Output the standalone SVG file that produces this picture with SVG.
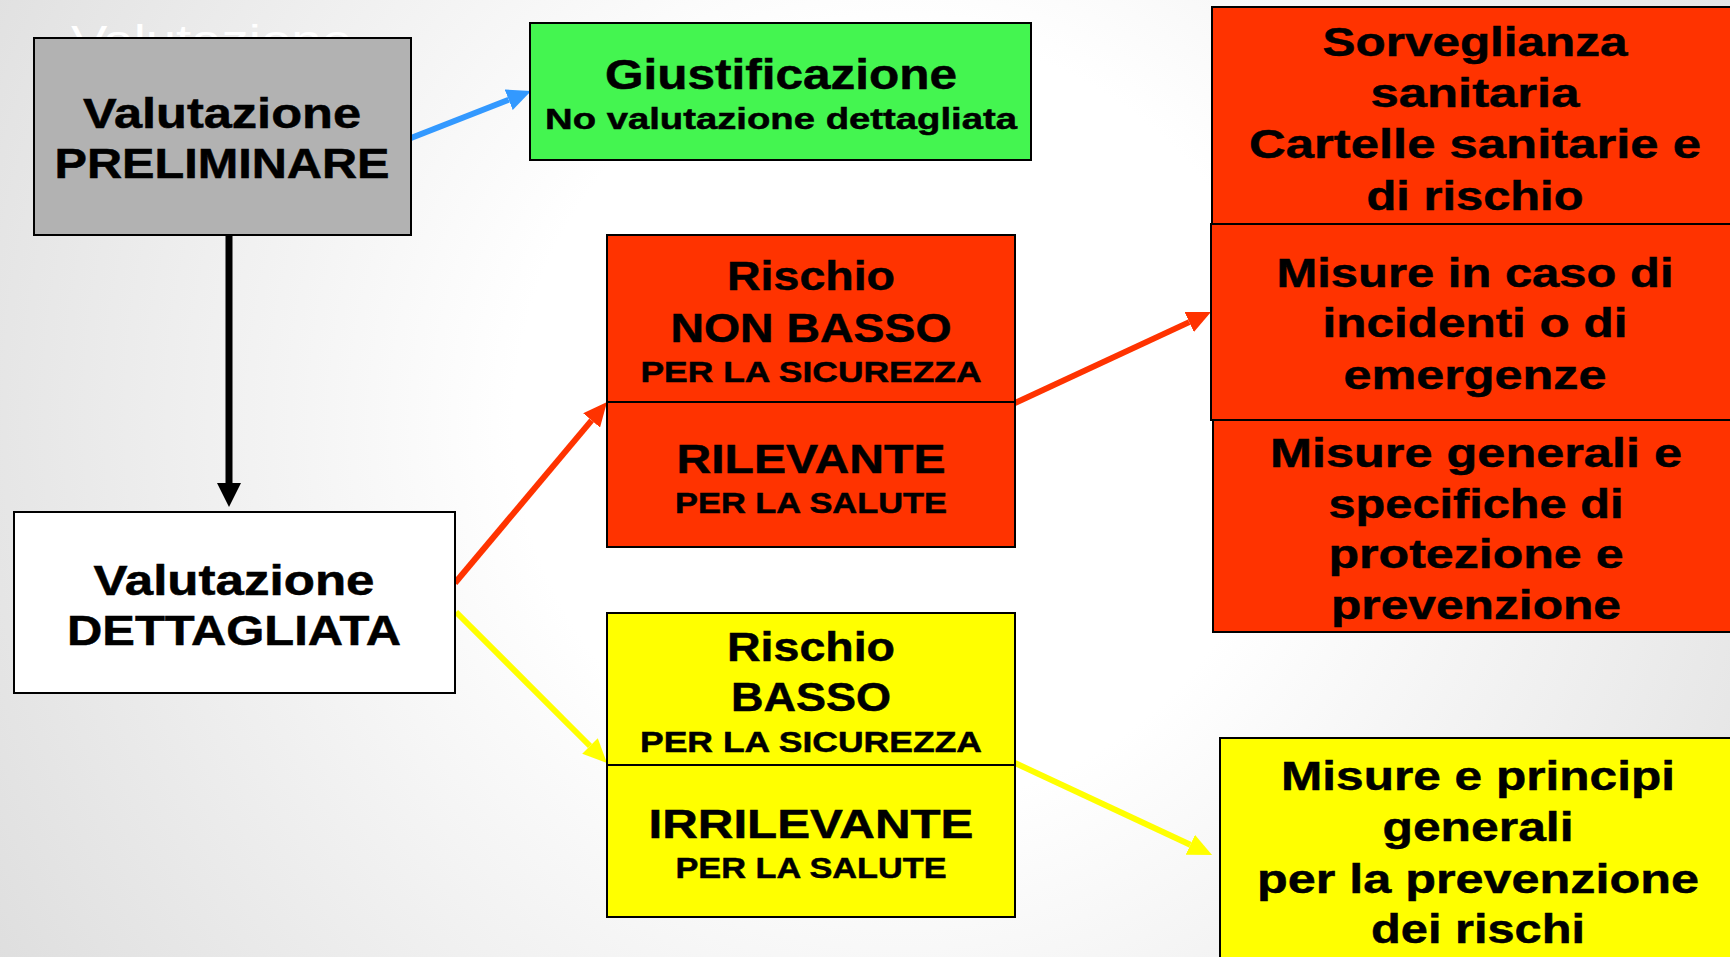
<svg xmlns="http://www.w3.org/2000/svg" width="1730" height="957" viewBox="0 0 1730 957">
<defs>
<radialGradient id="bg" cx="900" cy="420" r="1100" gradientUnits="userSpaceOnUse">
<stop offset="0.35" stop-color="#ffffff"/>
<stop offset="1" stop-color="#dcdcdc"/>
</radialGradient>
<marker id="hBlue" viewBox="0 0 24 22" refX="0" refY="11" markerWidth="24" markerHeight="22" markerUnits="userSpaceOnUse" orient="auto"><path d="M0,0 L24,11 L0,22 z" fill="#3399ff"/></marker>
<marker id="hBlack" viewBox="0 0 24 24" refX="0" refY="12" markerWidth="24" markerHeight="24" markerUnits="userSpaceOnUse" orient="auto"><path d="M0,0 L24,12 L0,24 z" fill="#000"/></marker>
<marker id="hRed" viewBox="0 0 24 22" refX="0" refY="11" markerWidth="24" markerHeight="22" markerUnits="userSpaceOnUse" orient="auto"><path d="M0,0 L24,11 L0,22 z" fill="#ff3300"/></marker>
<marker id="hYellow" viewBox="0 0 24 22" refX="0" refY="11" markerWidth="24" markerHeight="22" markerUnits="userSpaceOnUse" orient="auto"><path d="M0,0 L24,11 L0,22 z" fill="#ffff00"/></marker>
</defs>
<style>
.box{stroke:#000;stroke-width:2}
.t{font-family:"Liberation Sans",Arial,sans-serif;font-weight:bold;fill:#000;stroke:#000;stroke-width:0.5;text-anchor:middle}
.f42{font-size:42px}
.f41{font-size:41px}
.f40{font-size:40px}
.f30{font-size:30px}
.conn{fill:none;stroke-width:6}
</style>
<rect width="1730" height="957" fill="url(#bg)"/>
<text x="71" y="55" font-family="Liberation Sans, Arial, sans-serif" font-size="42" fill="#ffffff" textLength="281" lengthAdjust="spacingAndGlyphs">Valutazione</text>

<g id="connectors">
<line class="conn" x1="411" y1="138" x2="508.7" y2="99.8" stroke="#3399ff" marker-end="url(#hBlue)"/>
<line x1="229" y1="235" x2="229" y2="483" stroke="#000" stroke-width="7" marker-end="url(#hBlack)"/>
<line class="conn" x1="455" y1="583" x2="591.6" y2="420.4" stroke="#ff3300" marker-end="url(#hRed)"/>
<line class="conn" x1="456" y1="612" x2="590" y2="746" stroke="#ffff00" marker-end="url(#hYellow)"/>
<line class="conn" x1="1015" y1="403" x2="1189.2" y2="322.1" stroke="#ff3300" marker-end="url(#hRed)"/>
<line class="conn" x1="1015" y1="763" x2="1190.3" y2="844.8" stroke="#ffff00" marker-end="url(#hYellow)"/>
</g>

<g id="preliminare">
<rect class="box" x="34" y="38" width="377" height="197" fill="#b2b2b2"/>
<text class="t f42" x="222" y="128" textLength="278" lengthAdjust="spacingAndGlyphs">Valutazione</text>
<text class="t f42" x="222" y="178" textLength="335" lengthAdjust="spacingAndGlyphs">PRELIMINARE</text>
</g>

<g id="giustificazione">
<rect class="box" x="530" y="23" width="501" height="137" fill="#44f550"/>
<text class="t f42" x="781" y="89" textLength="352" lengthAdjust="spacingAndGlyphs">Giustificazione</text>
<text class="t f30" x="781" y="129" textLength="472" lengthAdjust="spacingAndGlyphs">No valutazione dettagliata</text>
</g>

<g id="dettagliata">
<rect class="box" x="14" y="512" width="441" height="181" fill="#ffffff"/>
<text class="t f42" x="234" y="595" textLength="281" lengthAdjust="spacingAndGlyphs">Valutazione</text>
<text class="t f42" x="234" y="645" textLength="334" lengthAdjust="spacingAndGlyphs">DETTAGLIATA</text>
</g>

<g id="rischio-non-basso">
<rect class="box" x="607" y="235" width="408" height="167" fill="#ff3300"/>
<text class="t f40" x="811" y="290" textLength="168" lengthAdjust="spacingAndGlyphs">Rischio</text>
<text class="t f40" x="811" y="342" textLength="281" lengthAdjust="spacingAndGlyphs">NON BASSO</text>
<text class="t f30" x="811" y="382" textLength="341" lengthAdjust="spacingAndGlyphs">PER LA SICUREZZA</text>
</g>
<g id="rilevante">
<rect class="box" x="607" y="402" width="408" height="145" fill="#ff3300"/>
<text class="t f41" x="811" y="473" textLength="269" lengthAdjust="spacingAndGlyphs">RILEVANTE</text>
<text class="t f30" x="811" y="513" textLength="272" lengthAdjust="spacingAndGlyphs">PER LA SALUTE</text>
</g>

<g id="rischio-basso">
<rect class="box" x="607" y="613" width="408" height="152" fill="#ffff00"/>
<text class="t f40" x="811" y="661" textLength="168" lengthAdjust="spacingAndGlyphs">Rischio</text>
<text class="t f40" x="811" y="711" textLength="160" lengthAdjust="spacingAndGlyphs">BASSO</text>
<text class="t f30" x="811" y="752" textLength="342" lengthAdjust="spacingAndGlyphs">PER LA SICUREZZA</text>
</g>
<g id="irrilevante">
<rect class="box" x="607" y="765" width="408" height="152" fill="#ffff00"/>
<text class="t f41" x="811" y="838" textLength="325" lengthAdjust="spacingAndGlyphs">IRRILEVANTE</text>
<text class="t f30" x="811" y="878" textLength="271" lengthAdjust="spacingAndGlyphs">PER LA SALUTE</text>
</g>

<g id="sorveglianza">
<rect class="box" x="1212" y="7" width="530" height="217" fill="#ff3300"/>
<text class="t f41" x="1475" y="56" textLength="305" lengthAdjust="spacingAndGlyphs">Sorveglianza</text>
<text class="t f41" x="1475" y="107" textLength="209" lengthAdjust="spacingAndGlyphs">sanitaria</text>
<text class="t f41" x="1475" y="158" textLength="452" lengthAdjust="spacingAndGlyphs">Cartelle sanitarie e</text>
<text class="t f41" x="1475" y="210" textLength="217" lengthAdjust="spacingAndGlyphs">di rischio</text>
</g>
<g id="incidenti">
<rect class="box" x="1211" y="224" width="531" height="196" fill="#ff3300"/>
<text class="t f41" x="1475" y="287" textLength="397" lengthAdjust="spacingAndGlyphs">Misure in caso di</text>
<text class="t f41" x="1475" y="337" textLength="305" lengthAdjust="spacingAndGlyphs">incidenti o di</text>
<text class="t f41" x="1475" y="389" textLength="263" lengthAdjust="spacingAndGlyphs">emergenze</text>
</g>
<g id="misure-generali">
<rect class="box" x="1213" y="420" width="529" height="212" fill="#ff3300"/>
<text class="t f41" x="1476" y="467" textLength="412" lengthAdjust="spacingAndGlyphs">Misure generali e</text>
<text class="t f41" x="1476" y="518" textLength="295" lengthAdjust="spacingAndGlyphs">specifiche di</text>
<text class="t f41" x="1476" y="568" textLength="295" lengthAdjust="spacingAndGlyphs">protezione e</text>
<text class="t f41" x="1476" y="619" textLength="290" lengthAdjust="spacingAndGlyphs">prevenzione</text>
</g>

<g id="misure-principi">
<rect class="box" x="1220" y="738" width="530" height="240" fill="#ffff00"/>
<text class="t f41" x="1478" y="790" textLength="394" lengthAdjust="spacingAndGlyphs">Misure e principi</text>
<text class="t f41" x="1478" y="841" textLength="191" lengthAdjust="spacingAndGlyphs">generali</text>
<text class="t f41" x="1478" y="893" textLength="442" lengthAdjust="spacingAndGlyphs">per la prevenzione</text>
<text class="t f41" x="1478" y="943" textLength="214" lengthAdjust="spacingAndGlyphs">dei rischi</text>
</g>
</svg>
